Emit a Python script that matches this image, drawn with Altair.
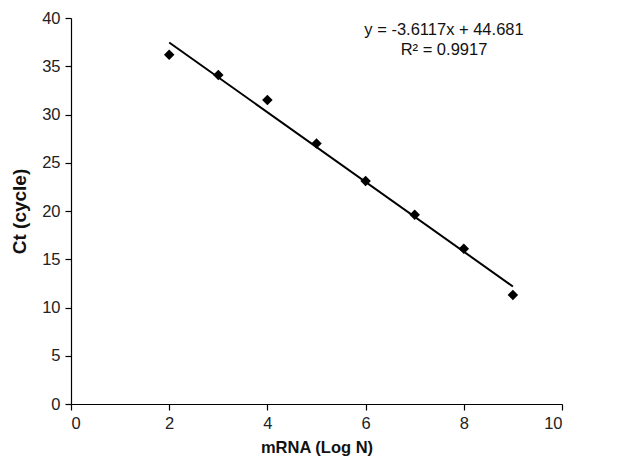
import altair as alt
import pandas as pd

mrna_log_n = [2, 3, 4, 5, 6, 7, 8, 9]
ct_cycle = [36.2, 34.1, 31.5, 27.0, 23.1, 19.6, 16.1, 11.3]
fit_slope = -3.6117
fit_intercept = 44.681
fit_x = [2, 9]
equation_lines = ["y = -3.6117x + 44.681", "R\u00b2 = 0.9917"]

df = pd.DataFrame({"x": mrna_log_n, "y": ct_cycle})
fit_df = pd.DataFrame({"x": fit_x, "y": [fit_slope * v + fit_intercept for v in fit_x]})
txt_df = pd.DataFrame({"t": equation_lines, "row": [0, 1]})

FONT = "Liberation Sans"

x_enc = alt.X("x:Q", scale=alt.Scale(domain=[0, 10], nice=False),
              axis=alt.Axis(values=[0, 2, 4, 6, 8, 10], title="mRNA (Log N)"))
y_enc = alt.Y("y:Q", scale=alt.Scale(domain=[0, 40], nice=False),
              axis=alt.Axis(values=list(range(0, 41, 5)), title="Ct (cycle)"))

points = alt.Chart(df).mark_point(shape="diamond", filled=True, color="black",
                                  size=110, opacity=1).encode(x=x_enc, y=y_enc)
line = alt.Chart(fit_df).mark_line(color="black", strokeWidth=2).encode(x=x_enc, y=y_enc)


def text_row(i, ypix):
    return alt.Chart(txt_df).transform_filter(alt.datum.row == i).mark_text(
        font=FONT, fontSize=16.5, color="#111", align="center", baseline="middle"
    ).encode(x=alt.value(373), y=alt.value(ypix), text="t:N")


chart = alt.layer(line, points, text_row(0, 12), text_row(1, 32)).properties(
    width=491, height=386,
    autosize=alt.AutoSizeParams(type="none"),
    padding={"left": 63, "top": 10, "right": 50, "bottom": 56},
).configure_view(stroke=None).configure_axis(
    grid=False, domainColor="black", domainWidth=1.2, tickColor="black",
    tickSize=6, tickWidth=1.2, labelFont=FONT, labelFontSize=16.5, labelColor="#222",
    titleFont=FONT, titleFontWeight="bold", titleColor="#111",
    labelPadding=5,
).configure_axisX(titlePadding=8, titleFontSize=16.5).configure_axisY(
    titlePadding=12, titleFontSize=19)

chart.save("out.html", embed_options={"renderer": "svg", "actions": False})
